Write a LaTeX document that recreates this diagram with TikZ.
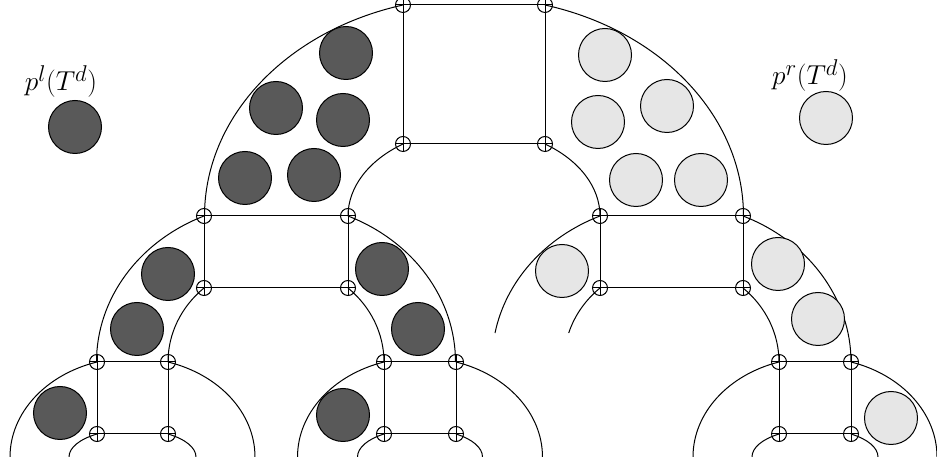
\documentclass[tikz,border=0pt]{standalone}
\definecolor{darkball}{RGB}{89,89,89}
\definecolor{lightball}{RGB}{230,230,230}
\begin{document}
\begin{tikzpicture}[x=1pt,y=1pt,line width=1pt,
  joint/.style={circle,draw,minimum size=15pt,inner sep=0pt,
    path picture={\draw (path picture bounding box.north) -- (path picture bounding box.south)
      (path picture bounding box.west) -- (path picture bounding box.east);}},
  balld/.style={circle,draw,fill=darkball,minimum size=53pt,inner sep=0pt},
  balll/.style={circle,draw,fill=lightball,minimum size=53pt,inner sep=0pt},
  lab/.style={anchor=base,inner sep=0pt,font=\Huge,scale=1.1}]
\useasboundingbox (0,0) rectangle (937,465);
% joints
\node[joint] (t1) at (403,460) {}; \node[joint] (t2) at (545,460) {};
\node[joint] (t3) at (403,321) {}; \node[joint] (t4) at (545,321) {};
\node[joint] (l1) at (204,249) {}; \node[joint] (l2) at (348,249) {};
\node[joint] (l3) at (204,177) {}; \node[joint] (l4) at (348,177) {};
\node[joint] (r1) at (600,249) {}; \node[joint] (r2) at (743,249) {};
\node[joint] (r3) at (600,177) {}; \node[joint] (r4) at (743,177) {};
\node[joint] (a1) at (97,103) {};  \node[joint] (a2) at (168,103) {};
\node[joint] (a3) at (97,31) {};   \node[joint] (a4) at (168,31) {};
\node[joint] (b1) at (384,103) {}; \node[joint] (b2) at (456,103) {};
\node[joint] (b3) at (384,31) {};  \node[joint] (b4) at (456,31) {};
\node[joint] (c1) at (779,103) {}; \node[joint] (c2) at (851,103) {};
\node[joint] (c3) at (779,31) {};  \node[joint] (c4) at (851,31) {};
% rectangles
\foreach \p in {t,l,r,a,b,c}{
  \draw (\p1.center) -- (\p2.center) -- (\p4.center) -- (\p3.center) -- cycle;}
% arcs, top
\draw (t1.center) arc[start angle=105.28,end angle=180,x radius=269.5pt,y radius=218.7pt];
\draw (t2.center) arc[start angle=74.72,end angle=0,x radius=269.5pt,y radius=218.7pt];
\draw (t3.center) arc[start angle=124.30,end angle=180,x radius=126pt,y radius=87.2pt];
\draw (t4.center) arc[start angle=55.70,end angle=0,x radius=126pt,y radius=87.2pt];
% left child
\draw (l1.center) arc[start angle=113.65,end angle=180,x radius=179.5pt,y radius=159.4pt];
\draw (l2.center) arc[start angle=66.35,end angle=0,x radius=179.5pt,y radius=159.4pt];
\draw (l3.center) arc[start angle=131.81,end angle=180,x radius=108pt,y radius=99.3pt];
\draw (l4.center) arc[start angle=48.19,end angle=0,x radius=108pt,y radius=99.3pt];
% right child
\draw (r1.center) arc[start angle=113.47,end angle=169.5,x radius=179.5pt,y radius=159.2pt];
\draw (r2.center) arc[start angle=66.53,end angle=0,x radius=179.5pt,y radius=159.2pt];
\draw (r3.center) arc[start angle=131.7,end angle=163.0,x radius=107.5pt,y radius=99.1pt];
\draw (r4.center) arc[start angle=48.3,end angle=0,x radius=107.5pt,y radius=99.1pt];
\begin{scope}
\clip (0,8) rectangle (937,470);
\draw (a1.center) arc[start angle=106.85,end angle=180,x radius=122.5pt,y radius=99.3pt];
\draw (a2.center) arc[start angle=73.15,end angle=0,x radius=122.5pt,y radius=99.3pt];
\draw (a3.center) arc[start angle=124.0,end angle=180,x radius=63.5pt,y radius=27.7pt];
\draw (a4.center) arc[start angle=56.0,end angle=0,x radius=63.5pt,y radius=27.7pt];
\draw (b1.center) arc[start angle=107.1,end angle=180,x radius=122.5pt,y radius=99.4pt];
\draw (b2.center) arc[start angle=72.9,end angle=0,x radius=122.5pt,y radius=99.4pt];
\draw (b3.center) arc[start angle=125.17,end angle=180,x radius=62.5pt,y radius=28.1pt];
\draw (b4.center) arc[start angle=54.83,end angle=0,x radius=62.5pt,y radius=28.1pt];
\draw (c1.center) arc[start angle=107.16,end angle=180,x radius=122pt,y radius=99.4pt];
\draw (c2.center) arc[start angle=72.84,end angle=0,x radius=122pt,y radius=99.4pt];
\draw (c3.center) arc[start angle=124.85,end angle=180,x radius=63pt,y radius=28pt];
\draw (c4.center) arc[start angle=55.15,end angle=0,x radius=63pt,y radius=28pt];
\end{scope}
% balls
\node[balld] (d0) at (75,338) {};
\node[balld] (d1) at (346,412) {};
\node[balld] (d2) at (276,357) {};
\node[balld] (d3) at (343,345) {};
\node[balld] (d4) at (245,287) {};
\node[balld] (d5) at (314,290) {};
\node[balld] (d6) at (168,191) {};
\node[balld] (d7) at (137,136) {};
\node[balld] (d8) at (382,196) {};
\node[balld] (d9) at (418,136) {};
\node[balld] (d10) at (60,52) {};
\node[balld] (d11) at (343,50) {};
\node[balll] (e0) at (826,347) {};
\node[balll] (e1) at (605,410) {};
\node[balll] (e2) at (598,343) {};
\node[balll] (e3) at (667,359) {};
\node[balll] (e4) at (636,285) {};
\node[balll] (e5) at (701,285) {};
\node[balll] (e6) at (562,194) {};
\node[balll] (e7) at (778,201) {};
\node[balll] (e8) at (818,146) {};
\node[balll] (e9) at (891,47) {};
% labels
\node[lab] (pl) at (61,374) {$p^l(T^d)$};
\node[lab] (pr) at (810,380) {$p^r(T^d)$};
\end{tikzpicture}
\end{document}
